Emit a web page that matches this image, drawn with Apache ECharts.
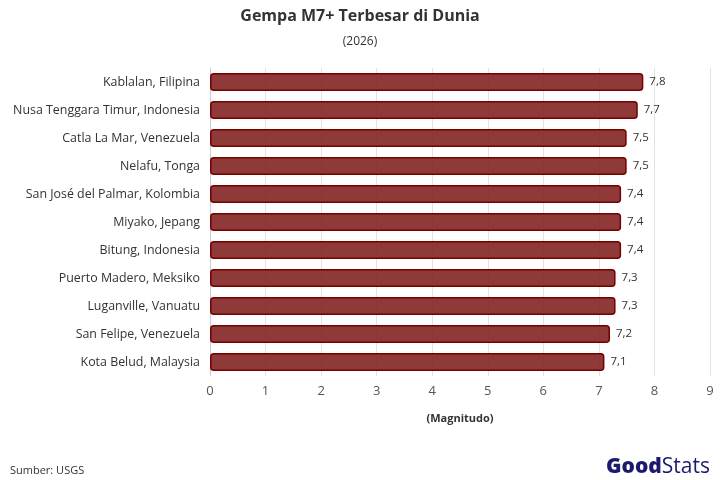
<!DOCTYPE html>
<html><head><meta charset="utf-8">
<script src="https://cdn.jsdelivr.net/npm/echarts@6/dist/echarts.min.js"></script>
<style>html,body{margin:0;padding:0;background:#fff}#c{width:720px;height:480px}</style>
</head><body><div id="c"></div>
<script>
const categories = ["Kablalan, Filipina","Nusa Tenggara Timur, Indonesia","Catla La Mar, Venezuela","Nelafu, Tonga","San José del Palmar, Kolombia","Miyako, Jepang","Bitung, Indonesia","Puerto Madero, Meksiko","Luganville, Vanuatu","San Felipe, Venezuela","Kota Belud, Malaysia"];
const values = [7.8,7.7,7.5,7.5,7.4,7.4,7.4,7.3,7.3,7.2,7.1];
const xTicks = [0,1,2,3,4,5,6,7,8,9];
const font = "'Open Sans', sans-serif";
const chart = echarts.init(document.getElementById('c'), null, {renderer:'canvas'});
chart.setOption({
  animation:false,
  title:[
    {text:"Gempa M7+ Terbesar di Dunia", left:'center', top:3, textStyle:{fontFamily:font,fontSize:16,fontWeight:'bold',color:'#333'}},
    {text:"(2026)", left:'center', top:31, textStyle:{fontFamily:font,fontSize:12,fontWeight:'normal',color:'#333'}},
    {text:"Sumber: USGS", left:5, top:460, textStyle:{fontFamily:font,fontSize:11,fontWeight:'normal',color:'#333'}},
    {text:"{a|Good}{b|Stats}", right:5, top:452, textStyle:{rich:{a:{fontFamily:font,fontSize:21,fontWeight:800,color:'#1b1a6e'},b:{fontFamily:font,fontSize:21,fontWeight:'normal',color:'#1b1a6e'}}}}
  ],
  grid:{left:210,right:10,top:68,bottom:104},
  xAxis:{type:'value',min:0,max:9,interval:1,
    name:'(Magnitudo)',nameLocation:'middle',nameGap:37,
    nameTextStyle:{fontFamily:font,fontSize:11,fontWeight:'bold',color:'#333'},
    axisLabel:{fontFamily:font,fontSize:13,color:'#555',margin:9,formatter:v=>xTicks.includes(v)?String(v):''},
    axisLine:{show:false},axisTick:{show:false},
    splitLine:{show:true,lineStyle:{color:'#e3e3e3',width:1}}},
  yAxis:{type:'category',data:categories,inverse:true,
    axisLine:{show:true,lineStyle:{color:'#ccc'}},axisTick:{show:false},
    axisLabel:{fontFamily:font,fontSize:12.4,color:'#333',margin:10}},
  series:[{type:'bar',data:values,barWidth:18,
    itemStyle:{color:'rgba(128,30,30,0.88)',borderColor:'#750000',borderWidth:1.5,borderRadius:3},
    label:{show:true,position:'right',distance:6,fontFamily:font,fontSize:11.5,color:'#333',formatter:p=>String(p.value).replace('.',',')}}]
});
</script></body></html>
